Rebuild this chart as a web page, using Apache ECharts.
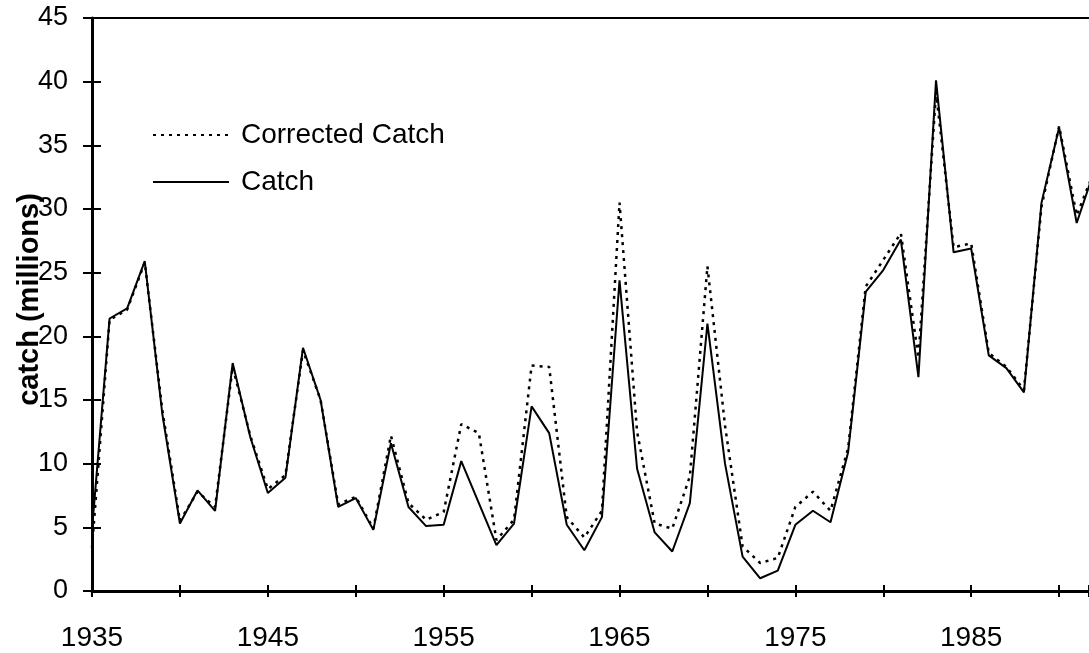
<!DOCTYPE html>
<html>
<head>
<meta charset="utf-8">
<script src="https://cdn.jsdelivr.net/npm/echarts@6/dist/echarts.min.js"></script>
<style>
  html, body { margin: 0; padding: 0; background: #fff; }
  #catch_chart { width: 1089px; height: 653px; }
</style>
</head>
<body>
<div id="catch_chart"></div>
<script>
// years 1935 - 1992 (last one is cut off by the right edge)
var years = []
for (var y = 1935; y <= 1992; y++) years.push(y)

var catchValues = [
  4.8, 21.4, 22.2, 25.9, 13.9, 5.3, 7.9, 6.3, 17.9, 12.1,
  7.7, 8.9, 19.1, 15.0, 6.6, 7.3, 4.8, 11.6, 6.6, 5.1,
  5.2, 10.2, 6.9, 3.6, 5.3, 14.5, 12.4, 5.2, 3.2, 5.8,
  24.4, 9.6, 4.6, 3.1, 6.9, 21.0, 10.0, 2.7, 1.0, 1.6,
  5.2, 6.3, 5.4, 10.9, 23.5, 25.2, 27.6, 16.8, 40.1, 26.6,
  26.9, 18.5, 17.5, 15.6, 30.5, 36.4, 28.9, 33.0
]

var correctedValues = [
  3.4, 21.3, 22.1, 25.8, 14.2, 5.5, 7.8, 6.6, 17.6, 12.2,
  8.0, 9.1, 18.9, 15.0, 6.8, 7.4, 4.9, 12.2, 6.9, 5.6,
  6.2, 13.1, 12.4, 4.0, 5.6, 17.7, 17.6, 5.8, 4.2, 6.3,
  30.5, 12.5, 5.3, 4.9, 9.0, 25.5, 13.0, 3.5, 2.2, 2.6,
  6.6, 7.8, 6.3, 11.2, 23.9, 26.0, 28.1, 18.3, 39.2, 27.0,
  27.3, 18.7, 17.6, 15.8, 30.2, 36.5, 29.5, 33.0
]

var yearLabels = [1935, 1945, 1955, 1965, 1975, 1985]

function pairs(values) {
  return values.map(function (v, i) { return [years[i], v] })
}

var FONT = 'Liberation Sans, Arial, sans-serif'
var X_MIN = 1935
var X_MAX = 1991.7

var chart = echarts.init(document.getElementById('catch_chart'))
chart.setOption({
  animation: false,
  grid: { left: 92, right: 0, top: 18, bottom: 62, outerBoundsMode: 'none', containLabel: false },
  legend: {
    orient: 'vertical',
    left: 147,
    top: 115,
    itemWidth: 76,
    itemHeight: 10,
    itemGap: 17,
    itemStyle: { color: 'rgba(0,0,0,0)', borderWidth: 0 },
    textStyle: { fontFamily: FONT, fontSize: 28, color: '#000', lineHeight: 30, padding: [0, 0, 0, 7] },
    data: ['Corrected Catch', 'Catch']
  },
  xAxis: [
    {
      type: 'value', position: 'bottom', min: X_MIN, max: X_MAX, interval: 5,
      axisLine: { lineStyle: { color: '#000', width: 3 } },
      axisTick: { show: true, inside: false, length: 6, lineStyle: { color: '#000', width: 2 } },
      axisLabel: {
        margin: 33, color: '#000', fontFamily: FONT, fontSize: 28,
        formatter: function (v) { return yearLabels.indexOf(v) >= 0 ? String(v) : '' }
      },
      splitLine: { show: false }
    },
    {
      type: 'value', position: 'bottom', min: X_MIN, max: X_MAX, interval: 5,
      axisLine: { show: false },
      axisTick: { show: true, inside: true, length: 6, lineStyle: { color: '#000', width: 2 } },
      axisLabel: { show: false },
      splitLine: { show: false }
    },
    {
      type: 'value', position: 'top', min: X_MIN, max: X_MAX,
      axisLine: { show: true, lineStyle: { color: '#000', width: 2 } },
      axisTick: { show: false },
      axisLabel: { show: false },
      splitLine: { show: false }
    }
  ],
  yAxis: [
    {
      type: 'value', position: 'left', min: 0, max: 45, interval: 5,
      name: 'catch (millions)',
      nameLocation: 'middle',
      nameGap: 48,
      nameMoveOverlap: false,
      nameTextStyle: { fontFamily: FONT, fontSize: 29, fontWeight: 'bold', color: '#000', padding: [0, 0, 0, 10] },
      axisLine: { show: true, lineStyle: { color: '#000', width: 3 } },
      axisTick: { show: true, inside: false, length: 9, lineStyle: { color: '#000', width: 2 } },
      axisLabel: { margin: 24, color: '#000', fontFamily: FONT, fontSize: 27 },
      splitLine: { show: false }
    },
    {
      type: 'value', position: 'left', min: 0, max: 45, interval: 5,
      axisLine: { show: false },
      axisTick: { show: true, inside: true, length: 9, lineStyle: { color: '#000', width: 2 } },
      axisLabel: { show: false },
      splitLine: { show: false }
    }
  ],
  series: [
    {
      name: 'Corrected Catch',
      type: 'line',
      symbol: 'none',
      data: pairs(correctedValues),
      itemStyle: { color: '#000' },
      lineStyle: { color: '#000', width: 2.5, type: [3, 5] }
    },
    {
      name: 'Catch',
      type: 'line',
      symbol: 'none',
      data: pairs(catchValues),
      itemStyle: { color: '#000' },
      lineStyle: { color: '#000', width: 2 }
    }
  ]
})
</script>
</body>
</html>
